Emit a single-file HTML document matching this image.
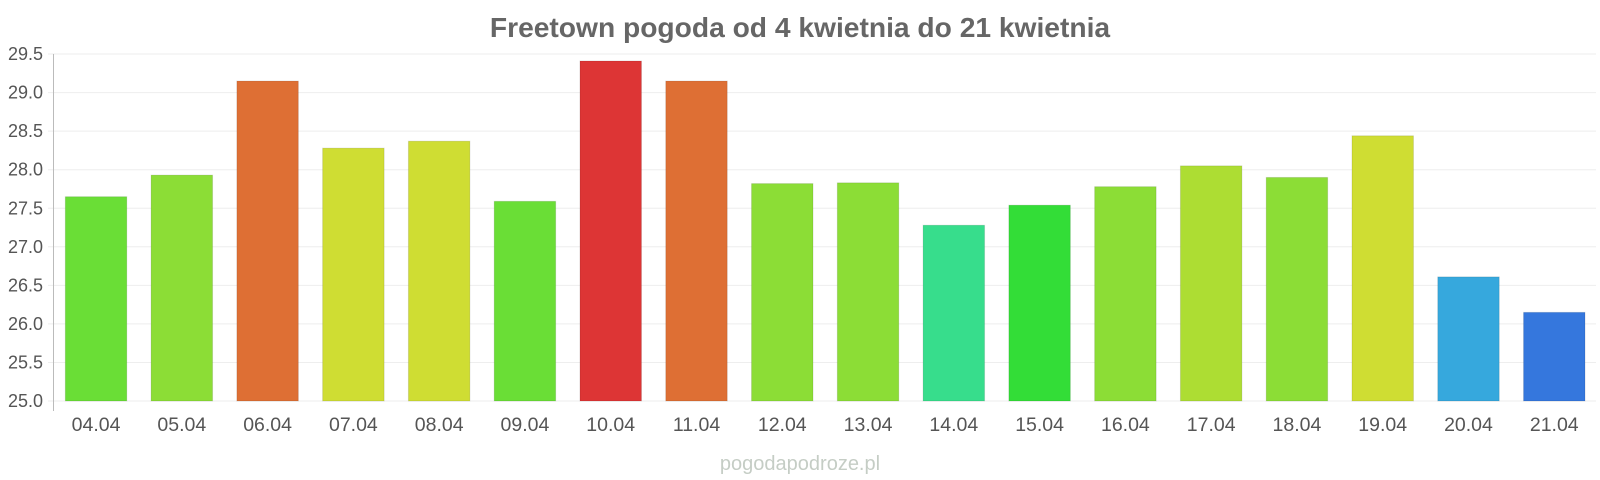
<!DOCTYPE html>
<html><head><meta charset="utf-8"><style>body{margin:0;background:#fff}svg{display:block}</style></head><body>
<svg width="1600" height="480" xmlns="http://www.w3.org/2000/svg" font-family="Liberation Sans, sans-serif">
<text x="800" y="37" text-anchor="middle" font-size="28.2" font-weight="bold" fill="#666">Freetown pogoda od 4 kwietnia do 21 kwietnia</text>
<g id="grid" stroke="#eee" stroke-width="1"></g>
<g id="bars"></g>
<line x1="53.5" y1="54" x2="53.5" y2="411" stroke="#bbb"/>
<g id="yl" font-size="18" fill="#555" text-anchor="end"></g>
<g id="xl" font-size="19.5" fill="#555" text-anchor="middle"></g>
<text x="800" y="470" text-anchor="middle" font-size="20" fill="#c5cdc5">pogodapodroze.pl</text>
<script>
const Y=v=>401-(v-25)*77.1;
const ns="http://www.w3.org/2000/svg";
function el(t,a,p,txt){const e=document.createElementNS(ns,t);for(const k in a)e.setAttribute(k,a[k]);if(txt)e.textContent=txt;document.getElementById(p).appendChild(e);}
for(let i=0;i<=9;i++){const v=25+i*0.5,y=Y(v);el('line',{x1:48,x2:1596,y1:y,y2:y},'grid');el('text',{x:43,y:y+6},'yl',v.toFixed(1));}
const d=[[27.65,'#6ade36'],[27.93,'#8cdd36'],[29.15,'#de6f34'],[28.28,'#cfdd33'],[28.37,'#cfdd33'],[27.59,'#6ade36'],[29.41,'#dd3535'],[29.15,'#de6f34'],[27.82,'#8cdd36'],[27.83,'#8cdd36'],[27.28,'#37dd8c'],[27.54,'#33dd37'],[27.78,'#8cdd36'],[28.05,'#addd33'],[27.9,'#8cdd36'],[28.44,'#cfdd33'],[26.61,'#36a8dd'],[26.15,'#3577dd']];
const bw=(1597-53)/18;
d.forEach((b,i)=>{const x=53+i*bw+12.3,y=Y(b[0]);el('rect',{x:x,y:y,width:61.5,height:401-y,fill:b[1],stroke:'rgba(0,0,0,0.1)','stroke-width':1},'bars');
el('text',{x:53+i*bw+12.3+30.75,y:431},'xl',String(4+i).padStart(2,'0')+'.04');});
</script>
</svg>
</body></html>
